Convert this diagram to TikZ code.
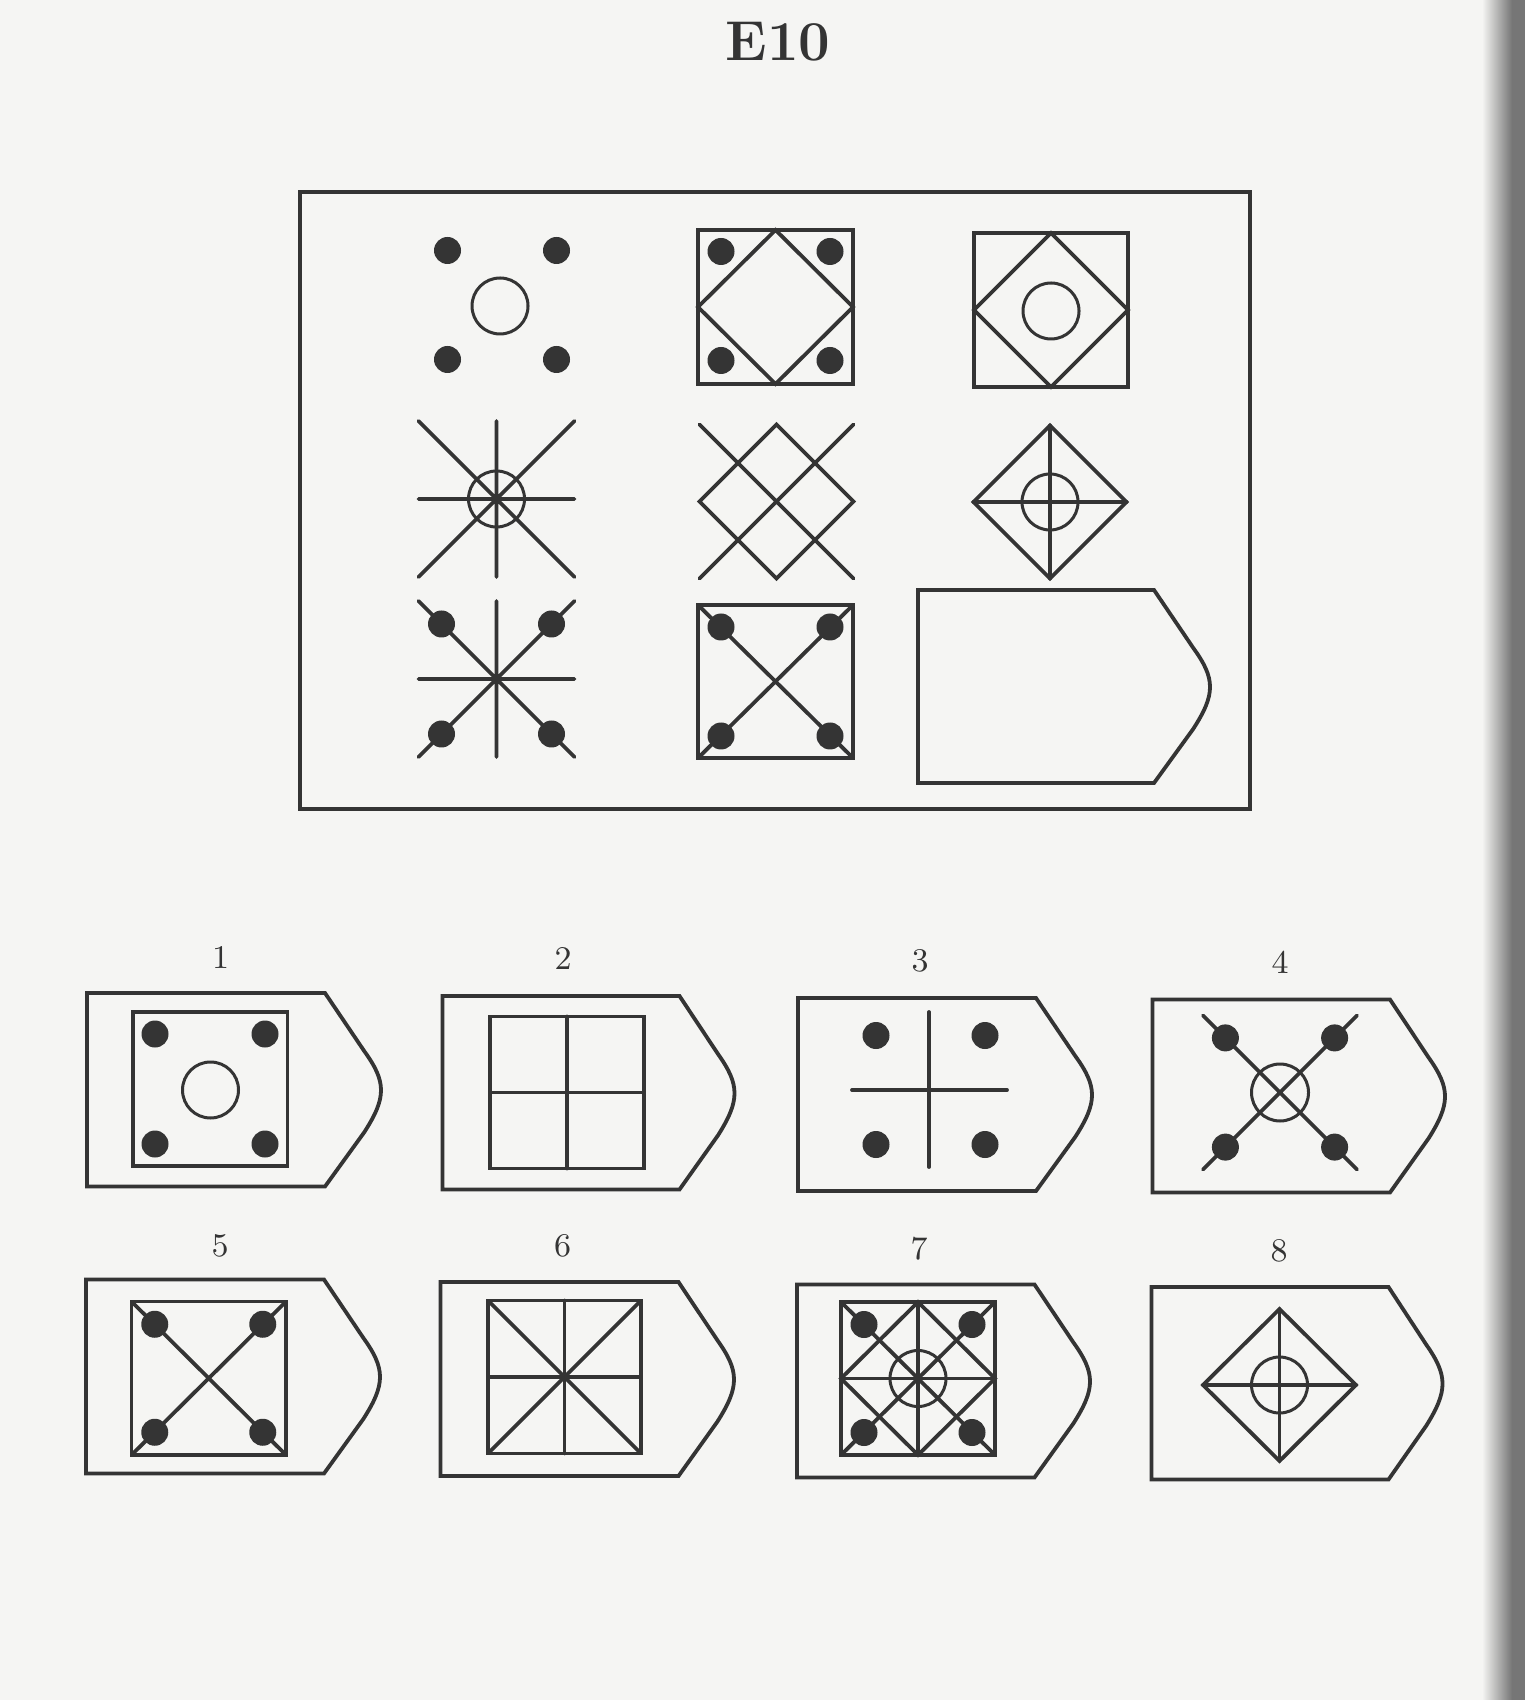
\documentclass[tikz,border=0pt]{standalone}
\definecolor{paper}{RGB}{245,245,243}
\definecolor{inkgray}{RGB}{52,52,52}
\definecolor{edge}{RGB}{118,118,118}
\newcommand{\fourdots}[3]{\foreach \dx in {-#3,#3} \foreach \dy in {-#3,#3} \fill[blob] ({#1+\dx},{#2+\dy}) circle[radius=1.35mm];}
\newcommand{\tabcard}[5]{%
  \draw[card] (#1,#2) -- (#3,#2) -- ({#3+0.7*(#4-#3)},{#2+0.3*(#5-#2)})
    .. controls ({#3+1.1*(#4-#3)},{#2+0.46*(#5-#2)}) and ({#3+1.1*(#4-#3)},{#5-0.46*(#5-#2)})
    .. ({#3+0.7*(#4-#3)},{#5-0.28*(#5-#2)}) -- (#3,#5) -- (#1,#5) -- cycle;}
\begin{document}
\begin{tikzpicture}[x=0.1mm, y=-0.1mm,
  pen/.style={draw=inkgray, line width=0.38mm, line cap=round},
  ring/.style={draw=inkgray, line width=0.3mm},
  blob/.style={fill=inkgray},
  card/.style={draw=inkgray, line width=0.38mm},
  num/.style={text=inkgray, font=\fontsize{9.4}{11}\selectfont, inner sep=0pt}]
\fill[paper] (0,0) rectangle (1525,1700);
\shade[left color=paper, right color=edge] (1482,0) rectangle (1512,1700);
\fill[edge] (1512,0) rectangle (1525,1700);
\node[text=inkgray, font={\fontsize{16}{19}\selectfont\bfseries}] (title) at (778,42) {E10};
% matrix
\draw[card] (300,192) rectangle (1250,809);
% row 1
\fourdots{502}{305}{54.5}
\draw[ring] (500,306) circle[radius=2.8mm];
\draw[pen] (698,230) rectangle (853,384);
\draw[pen] (775.5,230) -- (853,307) -- (775.5,384) -- (698,307) -- cycle;
\fourdots{775.5}{306}{54.5}
\draw[pen] (974,233) rectangle (1128,387);
\draw[pen] (1051,233) -- (1128,310) -- (1051,387) -- (974,310) -- cycle;
\draw[ring] (1051,311) circle[radius=2.8mm];
% row 2
\draw[pen] (418.5,421) -- (574.5,577) (574.5,421) -- (418.5,577) (418.5,499) -- (574.5,499) (496.5,421) -- (496.5,577);
\draw[ring] (496.5,499) circle[radius=2.8mm];
\draw[pen] (699.5,424.5) -- (853.5,578.5) (853.5,424.5) -- (699.5,578.5);
\draw[pen] (776.5,424.5) -- (853.5,501.5) -- (776.5,578.5) -- (699.5,501.5) -- cycle;
\draw[pen] (1050,425.5) -- (1126.5,502) -- (1050,578.5) -- (973.5,502) -- cycle;
\draw[pen] (1050,425.5) -- (1050,578.5) (973.5,502) -- (1126.5,502);
\draw[ring] (1050,502) circle[radius=2.8mm];
% row 3
\draw[pen] (418.5,601) -- (574.5,757) (574.5,601) -- (418.5,757) (418.5,679) -- (574.5,679) (496.5,601) -- (496.5,757);
\fourdots{496.5}{679}{55}
\draw[pen] (698,605) rectangle (853,758);
\draw[pen] (698,605) -- (853,758) (853,605) -- (698,758);
\fourdots{775.5}{681.5}{54.5}
\tabcard{918}{590}{1154}{1210}{783}
% options
\foreach \n/\l/\t/\c/\x/\b/\lx/\ly in {
  1/87/993/325/381/1186.5/220.5/957,
  2/442.5/996/679.5/734.5/1189.5/563/958,
  3/798/998/1036/1092/1191/920/961,
  4/1152.5/999.5/1390/1445/1192.5/1280/962,
  5/86/1279.5/324/380/1473.5/220/1245.5,
  6/440.5/1282/678.5/734/1476/562.5/1246,
  7/797/1284.5/1034.5/1090/1477.5/919/1249,
  8/1151.5/1287/1388.5/1442.5/1479.5/1279/1251}
{
  \tabcard{\l}{\t}{\c}{\x}{\b}
  \node[num] (lab\n) at (\lx,\ly) {\n};
}
% option 1
\draw[pen] (133,1012) rectangle (287.5,1166);
\fourdots{210}{1089}{55}
\draw[ring] (210.5,1090) circle[radius=2.8mm];
% option 2
\draw[pen] (490,1016.5) rectangle (644,1168.5);
\draw[pen] (567,1016.5) -- (567,1168.5) (490,1092.5) -- (644,1092.5);
% option 3
\draw[pen] (929,1012) -- (929,1167) (852,1090) -- (1007,1090);
\fourdots{930.5}{1090}{54.5}
% option 4
\draw[pen] (1203,1015.5) -- (1357,1169.5) (1357,1015.5) -- (1203,1169.5);
\draw[ring] (1280,1092.5) circle[radius=2.85mm];
\fourdots{1280}{1092.5}{54.6}
% option 5
\draw[pen] (131.5,1301.5) rectangle (286,1455);
\draw[pen] (131.5,1301.5) -- (286,1455) (286,1301.5) -- (131.5,1455);
\fourdots{208.75}{1378.25}{54}
% option 6
\draw[pen] (488,1300.5) rectangle (641,1453.5);
\draw[pen] (488,1300.5) -- (641,1453.5) (641,1300.5) -- (488,1453.5);
\draw[pen] (564.5,1300.5) -- (564.5,1453.5) (488,1377) -- (641,1377);
% option 7
\draw[pen] (841,1302) rectangle (995,1455);
\draw[pen] (841,1302) -- (995,1455) (995,1302) -- (841,1455);
\draw[pen] (918,1302) -- (918,1455) (841,1378.5) -- (995,1378.5);
\draw[pen] (918,1302) -- (995,1378.5) -- (918,1455) -- (841,1378.5) -- cycle;
\draw[ring] (918,1378.5) circle[radius=2.8mm];
\fourdots{918}{1378.5}{54}
% option 8
\draw[pen] (1279.5,1309) -- (1356,1385) -- (1279.5,1461) -- (1203,1385) -- cycle;
\draw[pen] (1279.5,1309) -- (1279.5,1461) (1203,1385) -- (1356,1385);
\draw[ring] (1279.5,1385) circle[radius=2.8mm];
\end{tikzpicture}
\end{document}
